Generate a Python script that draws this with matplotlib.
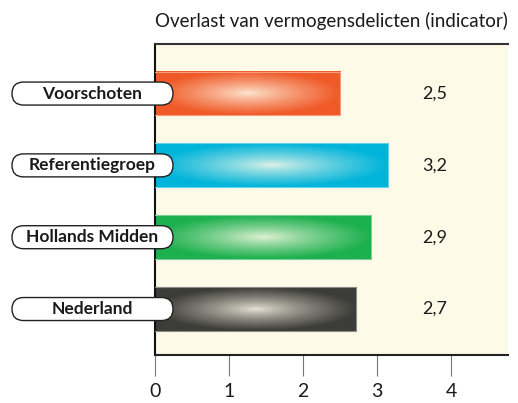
import numpy as np
import matplotlib.pyplot as plt
from matplotlib.colors import to_rgb
from matplotlib.patches import FancyBboxPatch
from matplotlib.transforms import IdentityTransform

plt.rcParams['font.family'] = ['Lato', 'DejaVu Sans']

# data
groups = ["Voorschoten", "Referentiegroep", "Hollands Midden", "Nederland"]
values = [2.5, 3.15, 2.92, 2.72]
value_labels = ["2,5", "3,2", "2,9", "2,7"]
bar_colors = ["#F05A28", "#00B4DA", "#1DB04E", "#3C3C38"]
xticks = [0, 1, 2, 3, 4]
title = "Overlast van vermogensdelicten (indicator)"

W, H = 518, 403
fig = plt.figure(figsize=(W / 100, H / 100), dpi=100)
ax = fig.add_axes([155 / W, 48 / H, 353 / W, 311 / H])
ax.set_facecolor("#FEFAE8")

bar_h = 0.61
ypos = np.arange(len(groups))
highlight = np.array(to_rgb("#FFFBEA"))

# radial gradient bars
nx, ny = 200, 60
gx = np.linspace(-1, 1, nx)
gy = np.linspace(-1, 1, ny)
GX, GY = np.meshgrid(gx, gy)
r = np.clip(np.sqrt(GX ** 2 + GY ** 2), 0, 1)
t = 0.1 + 0.9 * r ** 0.8
for y, v, c in zip(ypos, values, bar_colors):
    col = np.array(to_rgb(c))
    img = highlight[None, None, :] * (1 - t[..., None]) + col[None, None, :] * t[..., None]
    ax.imshow(img, extent=[0, v, y + bar_h / 2, y - bar_h / 2], aspect="auto",
              interpolation="bilinear", zorder=2)
    ax.plot([0, v, v, 0], [y - bar_h / 2, y - bar_h / 2, y + bar_h / 2, y + bar_h / 2],
            color=0.6 * col + 0.4, lw=0.8, zorder=3)

for y, lab in zip(ypos, value_labels):
    ax.text(3.78, y, lab, ha="center", va="center", fontsize=13, color="#1a1a1a")

ax.set_xlim(0, 4.77)
ax.set_ylim(len(groups) - 1 + 0.64, -0.69)
ax.set_yticks([])
ax.set_xticks(xticks)
ax.set_xticklabels([str(x) for x in xticks], fontsize=14)
ax.tick_params(axis="x", direction="out", length=15, width=0.8, color="#777777",
               pad=5, labelcolor="#1a1a1a")

ax.spines["right"].set_visible(False)
ax.spines["left"].set_color("#111111")
ax.spines["left"].set_linewidth(1.5)
ax.spines["bottom"].set_color("#222222")
ax.spines["bottom"].set_linewidth(1.5)
ax.spines["top"].set_color("#333333")
ax.spines["top"].set_linewidth(1.5)

fig.text(155 / W, 1 - 21 / H, title, ha="left", va="center", fontsize=13.5, color="#1a1a1a")

# pill shaped group labels drawn in pixels, centred on the bars
fig.canvas.draw()
box_h = 23
for y, name in zip(ypos, groups):
    cy = ax.transData.transform((0, y))[1]
    box = FancyBboxPatch((12, cy - box_h / 2), 161, box_h,
                         boxstyle="round,pad=0,rounding_size=11.5",
                         transform=IdentityTransform(), facecolor="white",
                         edgecolor="#222222", lw=1.0, zorder=10)
    fig.patches.append(box)
    fig.text(92.5 / W, cy / H, name, ha="center", va="center", fontsize=12.5,
             fontweight="bold", color="#1a1a1a", zorder=11)

fig.savefig("out.png", dpi=100)
